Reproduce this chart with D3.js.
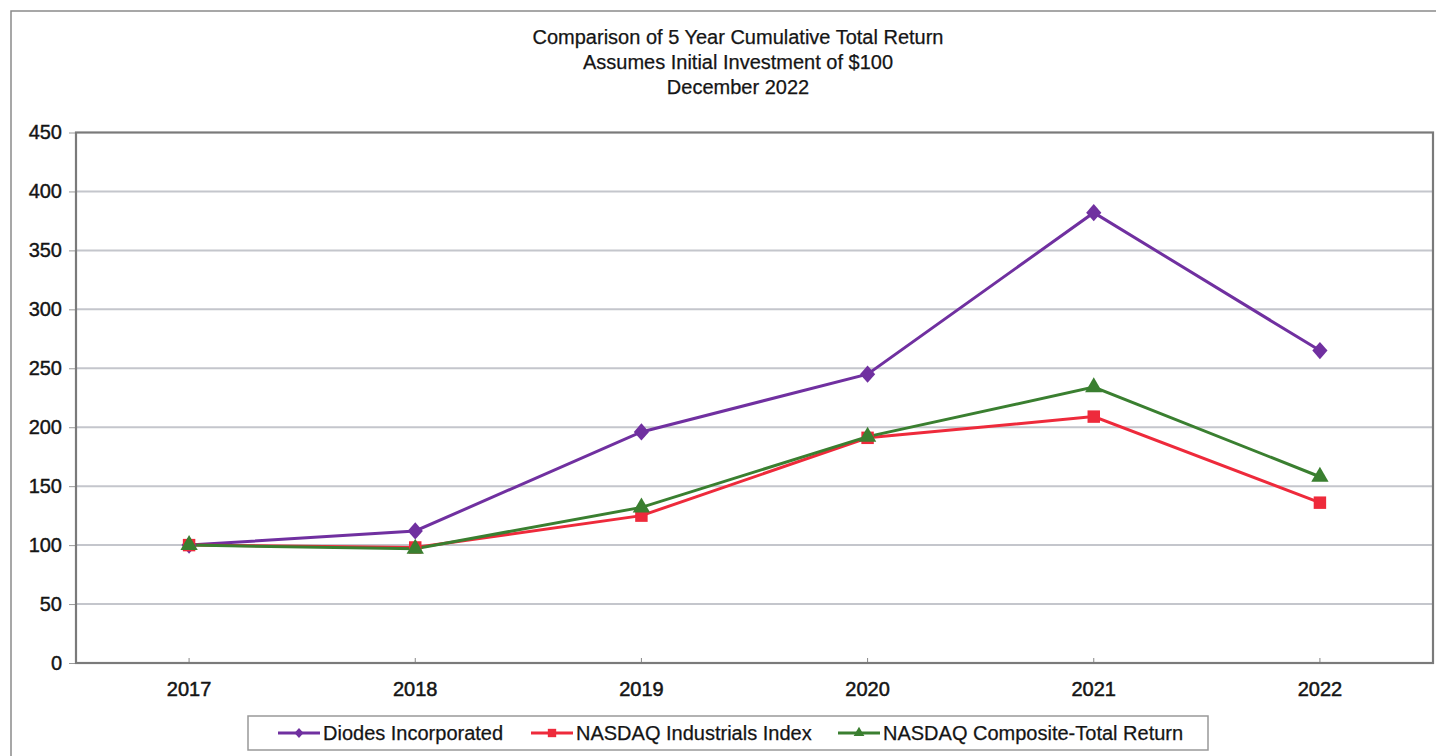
<!DOCTYPE html>
<html><head><meta charset="utf-8">
<script src="https://cdn.jsdelivr.net/npm/d3@7"></script>
<style>body{margin:0;background:#fff}svg{display:block}</style>
</head><body>
<svg id="c" width="1436" height="756"></svg>
<script>
const years = ["2017","2018","2019","2020","2021","2022"];
const diodes = [100, 112, 196, 245, 382, 265];
const nasdaqIndustrials = [100, 98, 125, 191, 209, 136];
const nasdaqComposite = [100, 97, 132, 192, 234, 158];
const yTicks = [0,50,100,150,200,250,300,350,400,450];
const titleLines = ["Comparison of 5 Year Cumulative Total Return","Assumes Initial Investment of $100","December 2022"];
const seriesNames = ["Diodes Incorporated","NASDAQ Industrials Index","NASDAQ Composite-Total Return"];

const diamond = {draw(ctx, size){const r=Math.sqrt(size)/Math.SQRT2; ctx.moveTo(0,-r*1.08);ctx.lineTo(r*0.95,0);ctx.lineTo(0,r*1.08);ctx.lineTo(-r*0.95,0);ctx.closePath();}};
const series = [
  {name: seriesNames[0], values: diodes, color: "#7030a0", symbol: diamond, size: 128, lsize: 45},
  {name: seriesNames[1], values: nasdaqIndustrials, color: "#ee2a3b", symbol: d3.symbolSquare, size: 155, lsize: 70},
  {name: seriesNames[2], values: nasdaqComposite, color: "#3a7f30", symbol: d3.symbolTriangle, size: 130, lsize: 50}
];

const svg = d3.select("#c");
const font = "'Liberation Sans', Arial, sans-serif";
const txt = "#151515";
const L = 76, R = 1433, T = 132.5, B = 663;

// outer border
svg.append("rect").attr("x",11).attr("y",11).attr("width",1440).attr("height",760)
  .attr("fill","#fff").attr("stroke","#8a8a8a").attr("stroke-width",1.5);

// title
svg.append("g").selectAll("text").data(titleLines).join("text")
  .attr("x", 738).attr("y",(d,i)=>44+i*25).attr("text-anchor","middle")
  .attr("font-family",font).attr("font-size",20).attr("fill",txt)
  .attr("stroke",txt).attr("stroke-width",0.25)
  .text(d=>d);

const x = d3.scaleBand().domain(years).range([L,R]);
const y = d3.scaleLinear().domain([0,450]).range([B,T]);

// gridlines
svg.append("g").selectAll("line").data(yTicks.filter(t=>t>0&&t<450)).join("line")
  .attr("x1",L).attr("x2",R).attr("y1",d=>y(d)).attr("y2",d=>y(d))
  .attr("stroke","#c4c6cc").attr("stroke-width",2);

// y axis
const ya = svg.append("g").attr("transform",`translate(${L},0)`)
  .call(d3.axisLeft(y).tickValues(yTicks).tickSize(7).tickPadding(7));
ya.select(".domain").remove();
ya.selectAll("line").attr("stroke","#999");
ya.selectAll("text").attr("font-family",font).attr("font-size",20).attr("fill",txt)
  .attr("stroke",txt).attr("stroke-width",0.4);

// x axis
const xa = svg.append("g").attr("transform",`translate(0,${B})`)
  .call(d3.axisBottom(x).tickSize(0).tickPadding(19));
xa.select(".domain").remove();
xa.selectAll("text").attr("font-family",font).attr("font-size",20).attr("fill",txt)
  .attr("stroke",txt).attr("stroke-width",0.5);
svg.append("g").selectAll("line").data(years).join("line")
  .attr("x1",d=>x(d)+x.bandwidth()/2).attr("x2",d=>x(d)+x.bandwidth()/2)
  .attr("y1",B).attr("y2",B-5).attr("stroke","#888").attr("stroke-width",1);

// plot frame
svg.append("rect").attr("x",L).attr("y",T).attr("width",R-L).attr("height",B-T)
  .attr("fill","none").attr("stroke","#7a7a7a").attr("stroke-width",2.2);

// lines
const cx = (i)=>x(years[i])+x.bandwidth()/2;
const line = d3.line().x((d,i)=>cx(i)).y(d=>y(d));
series.forEach(s=>{
  svg.append("path").datum(s.values).attr("d",line).attr("fill","none")
    .attr("stroke",s.color).attr("stroke-width",3);
});
series.forEach(s=>{
  svg.append("g").selectAll("path").data(s.values).join("path")
    .attr("d",d3.symbol().type(s.symbol).size(s.size))
    .attr("transform",(d,i)=>`translate(${cx(i)},${y(d)})`)
    .attr("fill",s.color);
});

// legend
svg.append("rect").attr("x",248).attr("y",716).attr("width",960).attr("height",34)
  .attr("fill","#fff").attr("stroke","#999").attr("stroke-width",1.5);
const legX = [278, 531, 838];
series.forEach((s,i)=>{
  const g = svg.append("g").attr("transform",`translate(${legX[i]},733)`);
  g.append("line").attr("x1",0).attr("x2",42).attr("stroke",s.color).attr("stroke-width",3);
  g.append("path").attr("d",d3.symbol().type(s.symbol).size(s.lsize)).attr("transform","translate(21,0)").attr("fill",s.color);
  g.append("text").attr("x",45).attr("y",7).attr("font-family",font).attr("font-size",20).attr("fill",txt)
    .attr("stroke",txt).attr("stroke-width",0.25).text(s.name);
});
</script>
</body></html>
